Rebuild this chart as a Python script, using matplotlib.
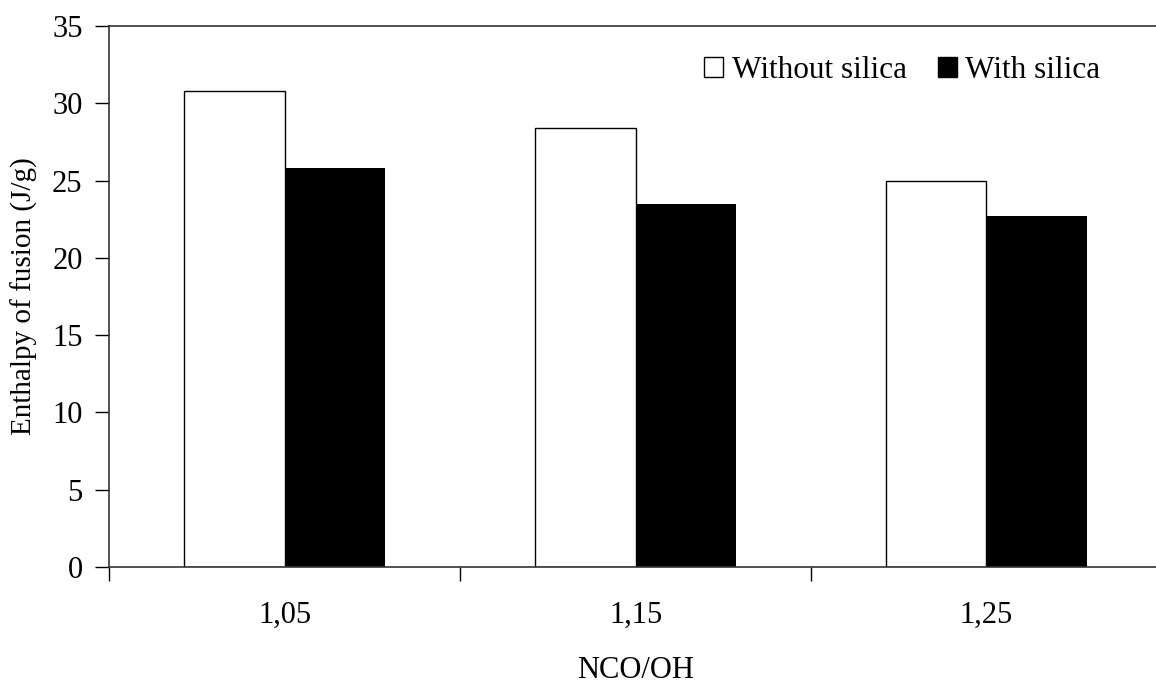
import numpy as np
import matplotlib.pyplot as plt
from matplotlib.patches import Patch

plt.rcParams['font.family'] = ['Liberation Serif', 'DejaVu Serif']

ratios = ['1,05', '1,15', '1,25']
without_silica = [30.8, 28.4, 25.0]
with_silica = [25.8, 23.5, 22.7]

fig = plt.figure(figsize=(11.56, 6.86), dpi=100)
ax = fig.add_axes([109 / 1156, 1 - 567 / 686, (1162 - 109) / 1156, (567 - 26) / 686])

x = np.arange(len(ratios))
w = 0.285
ax.bar(x - w / 2, without_silica, w, color='white', edgecolor='black', linewidth=1)
ax.bar(x + w / 2, with_silica, w, color='black', edgecolor='black', linewidth=0)

ax.set_xlim(-0.5, len(ratios) - 0.5)
ax.set_ylim(0, 35)
ax.set_yticks(np.arange(0, 36, 5))
ax.set_xticks(x)
ax.set_xticklabels(ratios)
ax.set_xticks(np.arange(-0.5, len(ratios)), minor=True)
ax.tick_params(axis='x', which='major', length=0, pad=24, labelsize=22)
ax.tick_params(axis='x', which='minor', length=10, width=1, direction='out')
ax.tick_params(axis='y', length=10, width=1, direction='out', pad=9, labelsize=22)

for s in ['left', 'bottom', 'top']:
    ax.spines[s].set_linewidth(1.2)
    ax.spines[s].set_color('#333333')
ax.spines['right'].set_visible(False)

ax.set_ylabel('Enthalpy of fusion (J/g)', fontsize=21, labelpad=10)
ax.set_xlabel('NCO/OH', fontsize=22, labelpad=19)

handles = [Patch(facecolor='white', edgecolor='black', linewidth=1, label='Without silica'),
           Patch(facecolor='black', edgecolor='black', label='With silica')]
ax.legend(handles=handles, ncol=2, frameon=False, fontsize=22.5, loc='upper left',
          bbox_to_anchor=(704 / 1156, 1 - 56 / 686), bbox_transform=fig.transFigure,
          handlelength=0.6, handleheight=0.6, handletextpad=0.28, columnspacing=1.0,
          borderaxespad=0, borderpad=0)

fig.savefig('out.png', dpi=100)
